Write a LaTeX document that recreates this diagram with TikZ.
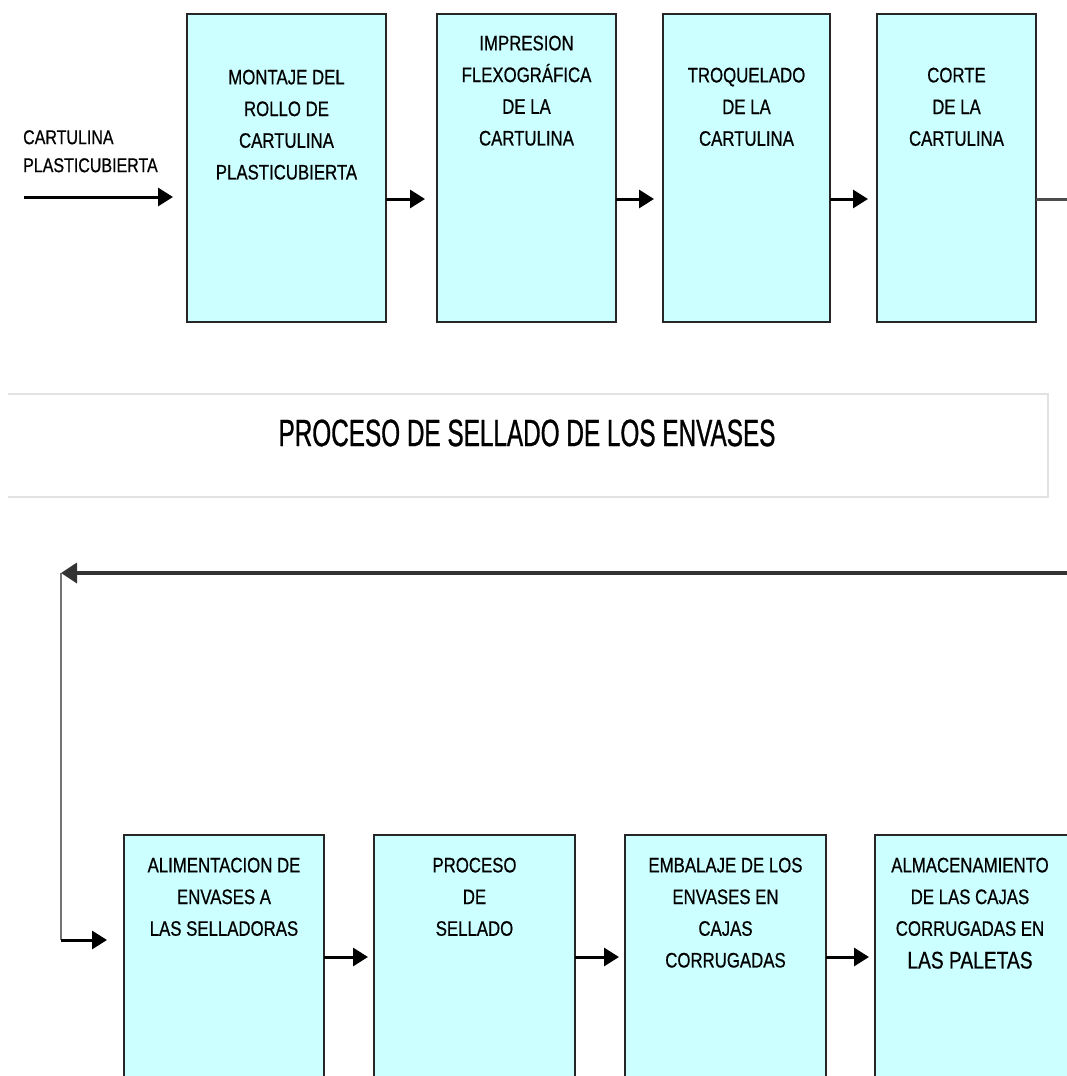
\documentclass[tikz,border=0pt]{standalone}
\usepackage{fontspec}
\setmainfont{Liberation Sans}
\newfontfamily\boxfont[FakeStretch=0.8, FakeBold=0.6]{Liberation Sans}
\newfontfamily\titlefont[FakeStretch=0.64, FakeBold=0.8]{Liberation Sans}
\usetikzlibrary{arrows.meta}
\definecolor{boxfill}{HTML}{CCFFFF}
\definecolor{boxline}{HTML}{262626}
\definecolor{frameline}{HTML}{E2E2E2}

\tikzset{
  stage/.style={draw=boxline, fill=boxfill, line width=2pt, inner sep=0pt,
    outer sep=0pt, anchor=north west},
  toprow/.style={stage, minimum height=308pt},
  bottomrow/.style={stage, minimum height=280pt},
  stagetext/.style={anchor=north, inner sep=0pt, align=center,
    font=\boxfont\fontsize{21}{31.7}\selectfont},
  flow/.style={line width=3pt, draw=black, -{Triangle[length=15pt,width=18pt]}},
  plainline/.style={line width=3pt, draw=black!70},
  returnline/.style={line width=3.5pt, draw=black!80},
  riser/.style={line width=2pt, draw=black!55},
}

\begin{document}
\begin{tikzpicture}[x=1pt, y=-1pt]
  \clip (0,0) rectangle (1067,1076);
  \fill[white] (0,0) rectangle (1067,1076);

  % ---- printing line -------------------------------------------------
  \node[toprow, minimum width=199pt] (b1) at (187,14) {};
  \node[toprow, minimum width=179pt] (b2) at (437,14) {};
  \node[toprow, minimum width=167pt] (b3) at (663,14) {};
  \node[toprow, minimum width=159pt] (b4) at (877,14) {};

  \node[stagetext] (t1) at (b1.north |- 0,69.5)
    {MONTAJE DEL\\ROLLO DE\\CARTULINA\\PLASTICUBIERTA};
  \node[stagetext] (t2) at (b2.north |- 0,35.5)
    {IMPRESION\\FLEXOGRÁFICA\\DE LA\\CARTULINA};
  \node[stagetext] (t3) at (b3.north |- 0,67.5)
    {TROQUELADO\\DE LA\\CARTULINA};
  \node[stagetext] (t4) at (b4.north |- 0,67.5)
    {CORTE\\DE LA\\CARTULINA};

  % raw material entering the line
  \node[anchor=north west, inner sep=0pt, align=left,
        font=\boxfont\fontsize{20}{28}\selectfont] (feed) at (23,130)
    {CARTULINA\\PLASTICUBIERTA};
  \coordinate (feedstart) at (24,197);
  \coordinate (rowA) at (0,199);
  \draw[flow, shorten >=14pt] (feedstart) -- (feedstart -| b1.west);

  \draw[flow, shorten >=12pt] (b1.east |- rowA) -- (b2.west |- rowA);
  \draw[flow, shorten >=9pt]  (b2.east |- rowA) -- (b3.west |- rowA);
  \draw[flow, shorten >=9pt]  (b3.east |- rowA) -- (b4.west |- rowA);
  \coordinate (outA) at (1067,199);
  \draw[plainline] (b4.east |- rowA) -- (outA);

  % ---- section heading -----------------------------------------------
  \draw[frameline, line width=2pt] (8,394) -- (1048,394) -- (1048,497) -- (8,497);
  \node[inner sep=0pt, font=\titlefont\fontsize{38}{40}\selectfont] (title)
    at (527,433) {PROCESO DE SELLADO DE LOS ENVASES};

  % ---- return path to the sealing line -------------------------------
  \coordinate (back) at (1067,573);
  \coordinate (corner) at (61,573);
  \coordinate (down) at (61,940);
  \draw[riser] (corner) -- (down);
  \draw[returnline, -{Triangle[length=16pt,width=20pt]}] (back) -- (corner);

  % ---- sealing line --------------------------------------------------
  \node[bottomrow, minimum width=200pt] (b5) at (124,835) {};
  \node[bottomrow, minimum width=201pt] (b6) at (374,835) {};
  \node[bottomrow, minimum width=201pt] (b7) at (625,835) {};
  \node[bottomrow, minimum width=215pt] (b8) at (875,835) {};

  \node[stagetext] (t5) at (b5.north |- 0,857.5)
    {ALIMENTACION DE\\ENVASES A\\LAS SELLADORAS};
  \node[stagetext] (t6) at (b6.north |- 0,857.5)
    {PROCESO\\DE\\SELLADO};
  \node[stagetext] (t7) at (b7.north |- 0,857.5)
    {EMBALAJE DE LOS\\ENVASES EN\\CAJAS\\CORRUGADAS};
  \node[stagetext, align=center] (t8) at (970,857.5)
    {ALMACENAMIENTO\\DE LAS CAJAS\\CORRUGADAS EN\\[1pt]{\fontsize{24}{31.7}\selectfont LAS PALETAS}};

  \draw[flow, shorten >=17pt] (down) -- (down -| b5.west);

  \coordinate (rowB) at (0,957);
  \draw[flow, shorten >=6pt] (b5.east |- rowB) -- (b6.west |- rowB);
  \draw[flow, shorten >=6pt] (b6.east |- rowB) -- (b7.west |- rowB);
  \draw[flow, shorten >=6pt] (b7.east |- rowB) -- (b8.west |- rowB);
\end{tikzpicture}
\end{document}
